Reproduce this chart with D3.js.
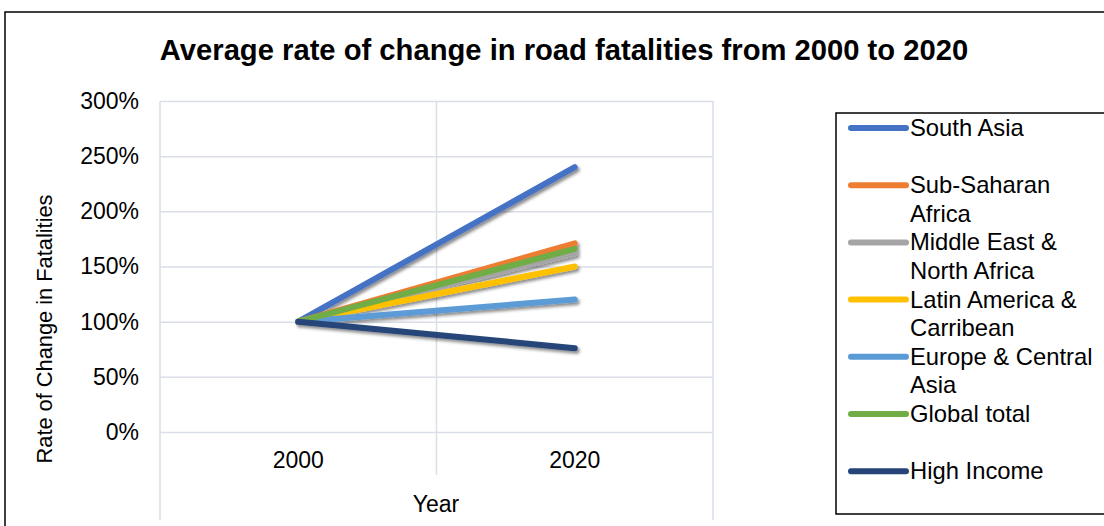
<!DOCTYPE html>
<html>
<head>
<meta charset="utf-8">
<script src="https://cdn.jsdelivr.net/npm/d3@7"></script>
<style>
  html, body { margin: 0; padding: 0; background: #fff; }
  svg { display: block; font-family: "Liberation Sans", Arial, sans-serif; }
</style>
</head>
<body>
<svg id="chart" width="1104" height="526"></svg>
<script>
// Road fatalities, indexed to 2000 = 100%
const years = ["2000", "2020"];
const regions = [
  "South Asia",
  "Sub-Saharan Africa",
  "Middle East & North Africa",
  "Latin America & Carribean",
  "Europe & Central Asia",
  "Global total",
  "High Income"
];
const legendLines = [
  ["South Asia"],
  ["Sub-Saharan", "Africa"],
  ["Middle East &", "North Africa"],
  ["Latin America &", "Carribean"],
  ["Europe & Central", "Asia"],
  ["Global total"],
  ["High Income"]
];
const southAsia = [1.00, 2.40];
const subSaharanAfrica = [1.00, 1.71];
const middleEastNorthAfrica = [1.00, 1.62];
const latinAmerica = [1.00, 1.50];
const europeCentralAsia = [1.00, 1.20];
const globalTotal = [1.00, 1.66];
const highIncome = [1.00, 0.76];
const yTicks = [0, 0.5, 1, 1.5, 2, 2.5, 3];
const colors = ["#4472C4", "#ED7D31", "#A5A5A5", "#FFC000", "#5B9BD5", "#70AD47", "#264478"];

const seriesValues = [southAsia, subSaharanAfrica, middleEastNorthAfrica, latinAmerica,
                      europeCentralAsia, globalTotal, highIncome];
const series = regions.map((name, i) => ({
  name, color: colors[i], lines: legendLines[i],
  values: years.map((y, j) => ({ year: y, value: seriesValues[i][j] }))
}));

const svg = d3.select("#chart");

// drop shadow under the lines
const defs = svg.append("defs");
const f = defs.append("filter").attr("id", "shadow")
  .attr("x", "-20%").attr("y", "-20%").attr("width", "140%").attr("height", "140%");
f.append("feDropShadow").attr("dx", 2).attr("dy", 2.5).attr("stdDeviation", 1.6)
  .attr("flood-color", "#000").attr("flood-opacity", 0.45);

// outer frame
svg.append("rect").attr("x", 5).attr("y", 12).attr("width", 1120).attr("height", 540)
  .attr("fill", "none").attr("stroke", "#000").attr("stroke-width", 1.5);

const plot = { left: 160, right: 713, top: 101, bottom: 432 };
const labelFont = 23;

const x = d3.scaleBand().domain(years).range([plot.left, plot.right]);
const y = d3.scaleLinear().domain([0, 3]).range([plot.bottom, plot.top]);

const gridColor = "#D9DEE8";

// horizontal gridlines + y tick labels
const yAxis = d3.axisLeft(y).tickValues(yTicks).tickFormat(d3.format(".0%"))
  .tickSize(-(plot.right - plot.left)).tickPadding(21);
const gy = svg.append("g").attr("transform", `translate(${plot.left},0)`).call(yAxis);
gy.select(".domain").remove();
gy.selectAll(".tick line").attr("stroke", gridColor).attr("stroke-width", 1.5);
gy.selectAll(".tick text").attr("font-size", labelFont).attr("fill", "#000")
  .attr("font-family", "'Liberation Sans', Arial, sans-serif");

// vertical category boundaries
const bounds = [plot.left, plot.left + x.bandwidth(), plot.right];
svg.append("g").selectAll("line").data(bounds).join("line")
  .attr("x1", d => d).attr("x2", d => d)
  .attr("y1", plot.top).attr("y2", (d, i) => i === 1 ? 475 : 520)
  .attr("stroke", gridColor).attr("stroke-width", 1.5);

// x category labels
const xAxis = d3.axisBottom(x).tickSize(0).tickPadding(20);
const gx = svg.append("g").attr("transform", `translate(0,${plot.bottom})`).call(xAxis);
gx.select(".domain").remove();
gx.selectAll(".tick text").attr("font-size", labelFont).attr("fill", "#000")
  .attr("font-family", "'Liberation Sans', Arial, sans-serif");

// lines
const line = d3.line()
  .x(d => x(d.year) + x.bandwidth() / 2)
  .y(d => y(d.value));
svg.append("g").attr("filter", "url(#shadow)")
  .selectAll("path").data(series).join("path")
  .attr("d", d => line(d.values))
  .attr("fill", "none").attr("stroke", d => d.color)
  .attr("stroke-width", 6).attr("stroke-linecap", "round");

// title
svg.append("text").attr("x", 564).attr("y", 60).attr("text-anchor", "middle")
  .attr("font-size", 29.2).attr("font-weight", "bold")
  .text("Average rate of change in road fatalities from 2000 to 2020");

// axis titles
svg.append("text").attr("x", 436).attr("y", 512).attr("text-anchor", "middle")
  .attr("font-size", labelFont).text("Year");
svg.append("text").attr("transform", "translate(52,329) rotate(-90)")
  .attr("text-anchor", "middle").attr("font-size", 21.8)
  .text("Rate of Change in Fatalities");

// legend
const lg = svg.append("g");
lg.append("rect").attr("x", 836).attr("y", 113).attr("width", 300).attr("height", 401)
  .attr("fill", "#fff").attr("stroke", "#000").attr("stroke-width", 1.5);
const entry = lg.selectAll("g.entry").data(series).join("g")
  .attr("class", "entry")
  .attr("transform", (d, i) => `translate(0,${128 + i * 57.2})`);
entry.append("line").attr("x1", 851).attr("x2", 906).attr("y1", 0).attr("y2", 0)
  .attr("stroke", d => d.color).attr("stroke-width", 6).attr("stroke-linecap", "round");
entry.append("text").attr("x", 910).attr("font-size", 23.8)
  .selectAll("tspan").data(d => d.lines).join("tspan")
  .attr("x", 910).attr("y", (d, i) => 8 + i * 28.4)
  .text(d => d);
</script>
</body>
</html>
